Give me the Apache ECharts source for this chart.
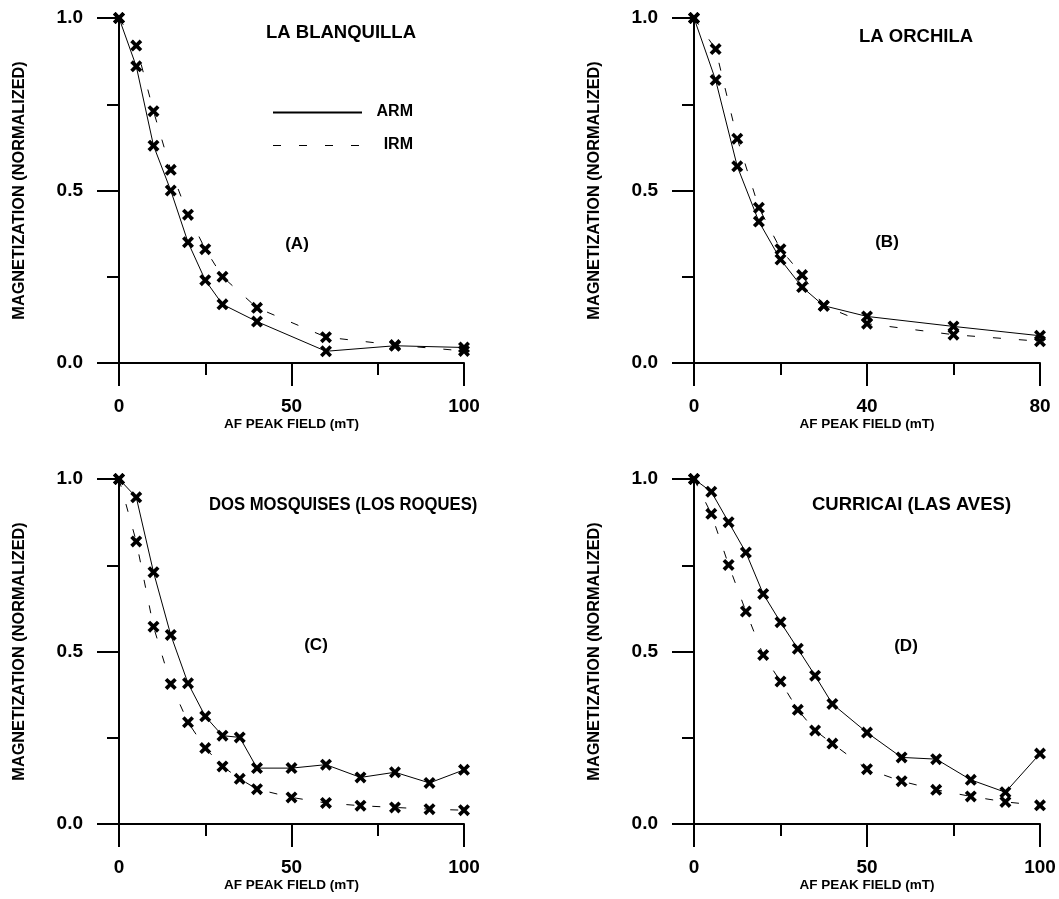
<!DOCTYPE html>
<html>
<head>
<meta charset="utf-8">
<script src="https://cdn.jsdelivr.net/npm/echarts@6/dist/echarts.min.js"></script>
<style>
  html, body { margin: 0; padding: 0; background: #fff; }
  #chart { width: 1059px; height: 899px; }
</style>
</head>
<body>
<div id="chart"></div>
<script>
// AF demagnetization of ARM and IRM, normalized magnetization
const fieldA = [0, 5, 10, 15, 20, 25, 30, 40, 60, 80, 100];
const armA = [1.0, 0.86, 0.63, 0.50, 0.35, 0.24, 0.17, 0.12, 0.034, 0.05, 0.045];
const irmA = [1.0, 0.92, 0.73, 0.56, 0.43, 0.33, 0.25, 0.16, 0.075, 0.052, 0.035];

const fieldB = [0, 5, 10, 15, 20, 25, 30, 40, 60, 80];
const armB = [1.0, 0.82, 0.57, 0.41, 0.30, 0.22, 0.166, 0.135, 0.106, 0.079];
const irmB = [1.0, 0.91, 0.65, 0.45, 0.33, 0.255, 0.166, 0.114, 0.082, 0.063];

const fieldCD = [0, 5, 10, 15, 20, 25, 30, 35, 40, 50, 60, 70, 80, 90, 100];
const armC = [1.0, 0.947, 0.730, 0.548, 0.408, 0.312, 0.256, 0.251, 0.162, 0.162, 0.172, 0.135, 0.150, 0.119, 0.157];
const irmC = [1.0, 0.819, 0.572, 0.406, 0.295, 0.220, 0.167, 0.131, 0.101, 0.077, 0.061, 0.053, 0.048, 0.043, 0.040];
const armD = [1.0, 0.963, 0.875, 0.787, 0.667, 0.585, 0.508, 0.430, 0.348, 0.265, 0.193, 0.188, 0.128, 0.092, 0.204];
const irmD = [1.0, 0.899, 0.751, 0.616, 0.490, 0.413, 0.331, 0.271, 0.233, 0.159, 0.124, 0.099, 0.080, 0.064, 0.054];

const siteNames = ['LA BLANQUILLA', 'LA ORCHILA', 'DOS MOSQUISES (LOS ROQUES)', 'CURRICAI (LAS AVES)'];
const panelTags = ['(A)', '(B)', '(C)', '(D)'];
const seriesNames = ['ARM', 'IRM'];
const xTitle = 'AF PEAK FIELD (mT)';
const yTitle = 'MAGNETIZATION (NORMALIZED)';

const FONT = '"Liberation Sans", Arial, Helvetica, sans-serif';
// heavy diagonal cross used as the point marker
const CROSS = 'path://M0,2.6 L2.6,0 L6,3.4 L9.4,0 L12,2.6 L8.6,6 L12,9.4 L9.4,12 L6,8.6 L2.6,12 L0,9.4 L3.4,6 Z';
const IRM_DASH = [8, 18];

const panels = [
  { grid: { left: 119, top: 18, width: 345, height: 345 }, xMax: 100, xStep: 50, field: fieldA, arm: armA, irm: irmA,
    title: [266, 33], titleScale: 1, tag: [297, 244] },
  { grid: { left: 694, top: 18, width: 346, height: 345 }, xMax: 80, xStep: 40, field: fieldB, arm: armB, irm: irmB,
    title: [859, 37], titleScale: 1, tag: [887, 242] },
  { grid: { left: 119, top: 479, width: 345, height: 345 }, xMax: 100, xStep: 50, field: fieldCD, arm: armC, irm: irmC,
    title: [209, 505], titleScale: 0.9, tag: [316, 645] },
  { grid: { left: 694, top: 479, width: 346, height: 345 }, xMax: 100, xStep: 50, field: fieldCD, arm: armD, irm: irmD,
    title: [812, 505], titleScale: 1, tag: [906, 646] }
];

const black = '#000';
const tickStyle = { color: black, width: 2 };

const grids = [], xAxes = [], yAxes = [], series = [], graphics = [];

panels.forEach((p, i) => {
  grids.push(p.grid);
  xAxes.push({
    gridIndex: i, type: 'value', min: 0, max: p.xMax, interval: p.xStep,
    axisLine: { show: true, onZero: false, lineStyle: tickStyle },
    axisTick: { show: true, length: 23, lineStyle: tickStyle },
    minorTick: { show: true, splitNumber: 2, length: 12, lineStyle: tickStyle },
    splitLine: { show: false },
    axisLabel: { margin: 34, color: black, fontSize: 19, fontWeight: 'bold', fontFamily: FONT },
    name: xTitle, nameLocation: 'middle', nameGap: 50,
    nameTextStyle: { color: black, fontSize: 13.5, fontWeight: 'bold', fontFamily: FONT }
  });
  yAxes.push({
    gridIndex: i, type: 'value', min: 0, max: 1, interval: 0.5,
    axisLine: { show: true, onZero: false, lineStyle: tickStyle },
    axisTick: { show: true, length: 22, lineStyle: tickStyle },
    minorTick: { show: true, splitNumber: 2, length: 12, lineStyle: tickStyle },
    splitLine: { show: false },
    axisLabel: { margin: 36, color: black, fontSize: 19, fontWeight: 'bold', fontFamily: FONT,
                 formatter: v => v.toFixed(1) },
    name: yTitle, nameLocation: 'middle', nameGap: 91,
    nameTextStyle: { color: black, fontSize: 16.3, fontWeight: 'bold', fontFamily: FONT }
  });
  [[p.arm, 'solid'], [p.irm, IRM_DASH]].forEach(([vals, dash], k) => {
    series.push({
      name: seriesNames[k], type: 'line', xAxisIndex: i, yAxisIndex: i,
      data: p.field.map((f, j) => [f, vals[j]]),
      symbol: CROSS, symbolSize: 12, showAllSymbol: true,
      itemStyle: { color: black },
      lineStyle: { color: black, width: 1, type: dash },
      emphasis: { disabled: true },
      z: 3
    });
  });
  graphics.push({
    type: 'text', x: p.title[0], y: p.title[1], scaleX: p.titleScale,
    style: { text: siteNames[i], fill: black, font: 'bold 18.5px ' + FONT, textAlign: 'left', textVerticalAlign: 'middle' }
  });
  graphics.push({
    type: 'text', x: p.tag[0], y: p.tag[1],
    style: { text: panelTags[i], fill: black, font: 'bold 17px ' + FONT, textAlign: 'center', textVerticalAlign: 'middle' }
  });
});

// key for the two curves, inside panel A
graphics.push(
  { type: 'line', shape: { x1: 273, y1: 112.5, x2: 362, y2: 112.5 }, style: { stroke: black, lineWidth: 2 } },
  { type: 'line', shape: { x1: 273, y1: 145.5, x2: 362, y2: 145.5 }, style: { stroke: black, lineWidth: 1, lineDash: IRM_DASH } },
  { type: 'text', x: 413, y: 112, style: { text: seriesNames[0], fill: black, font: 'bold 16px ' + FONT, textAlign: 'right', textVerticalAlign: 'middle' } },
  { type: 'text', x: 413, y: 145, style: { text: seriesNames[1], fill: black, font: 'bold 16px ' + FONT, textAlign: 'right', textVerticalAlign: 'middle' } }
);

const chart = echarts.init(document.getElementById('chart'), null, { renderer: 'canvas' });
chart.setOption({
  backgroundColor: '#fff',
  animation: false,
  grid: grids,
  xAxis: xAxes,
  yAxis: yAxes,
  series: series,
  graphic: graphics
});
</script>
</body>
</html>
